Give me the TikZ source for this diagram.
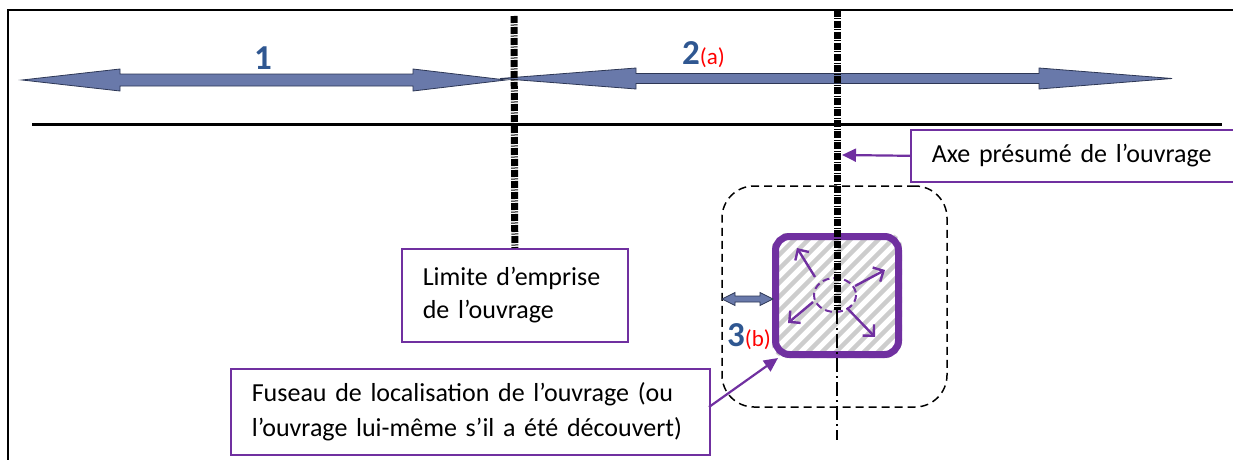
\documentclass[tikz,border=0pt]{standalone}
\usepackage{fontspec}
\setmainfont{Carlito}
\usetikzlibrary{arrows.meta,calc}
\definecolor{pur}{RGB}{112,48,160}
\definecolor{arrfill}{RGB}{105,121,170}
\definecolor{arrdraw}{RGB}{45,55,85}
\definecolor{numblue}{RGB}{47,87,145}
\definecolor{hatch}{RGB}{205,205,205}
\begin{document}
\begin{tikzpicture}[x=1pt,y=-1pt,
  lbl/.style={draw=pur, line width=1.6, font=\fontsize{26}{33}\selectfont, align=left,
    inner xsep=21pt, inner ysep=0pt, anchor=north west},
  blockarrow/.style={fill=arrfill, draw=arrdraw, line width=0.8},
  axisthick/.style={line width=7, dash pattern=on 7pt off 1.5pt on 1pt off 1.5pt},
  axisthin/.style={line width=1.5, dash pattern=on 14pt off 4pt on 2pt off 4pt},
  callout/.style={pur, line width=2.2, -{Triangle[length=14pt,width=13pt]}},
  spread/.style={pur, line width=2.4, -{Straight Barb[length=8pt,width=16pt]}},
  num/.style={text=numblue, font=\fontsize{35}{35}\selectfont\bfseries, inner sep=0pt}]
\useasboundingbox (0,0) rectangle (1233,460);

% frame and ground line
\draw[line width=1.5] (8,460) -- (8,10) -- (1233,10);
\draw[line width=2.5] (32,124.5) -- (1222,124.5);

% block arrows 1 and 2
\draw[blockarrow] (22,80) -- (120,69) -- (120,74) -- (413,74) -- (413,69) -- (506,80)
  -- (413,91) -- (413,86) -- (120,86) -- (120,91) -- cycle;
\draw[blockarrow] (500,78.5) -- (636,68) -- (636,73.5) -- (1039,73.5) -- (1039,68) -- (1172,78.5)
  -- (1039,89) -- (1039,83.5) -- (636,83.5) -- (636,89) -- cycle;
\node[num] (n1) at (263,58) {1};
\node[inner sep=0pt, anchor=base west] (n2) at (682,64)
  {\textcolor{numblue}{\fontsize{35}{35}\selectfont\bfseries 2}\textcolor{red}{\fontsize{23}{23}\selectfont(a)}};

% label boxes
\node[lbl, minimum width=226, minimum height=93, text width=184] (lim) at (401,248)
  {Limite d’emprise\\de l’ouvrage};
\node[lbl, minimum width=479, minimum height=86, text width=437, font=\fontsize{26}{35}\selectfont] (fus) at (230,368)
  {Fuseau de localisation de l’ouvrage (ou\\l’ouvrage lui-même s’il a été découvert)};
\node[lbl, minimum width=345, minimum height=52, text width=303] (axe) at (910,129)
  {Axe présumé de l’ouvrage};

% location zone
\node[draw, line width=1.5, dash pattern=on 8pt off 5pt, rounded corners=32,
  minimum width=225, minimum height=221, inner sep=0pt] (zone) at (834.5,296.5) {};
\begin{scope}
  \clip[rounded corners=14] (772,233) rectangle (902,358);
  \foreach \i in {-210,-196,...,210}
    \draw[line width=4.5, hatch] (837+\i-90,295+90) -- (837+\i+90,295-90);
\end{scope}
\node[draw=pur, line width=7, rounded corners=14, minimum width=123, minimum height=118,
  inner sep=0pt] (sq) at (837,295.5) {};
\draw[pur, line width=2, dash pattern=on 7pt off 4pt] (835,295) ellipse [x radius=21, y radius=17];
\draw[spread] (815,277) -- (797,248);
\draw[spread] (855,286) -- (885,270);
\draw[spread] (813,302) -- (788,323);
\draw[spread] (847,308) -- (875,337);

% small double arrow 3
\draw[blockarrow] (722,299) -- (735,292.5) -- (735,296) -- (760,296) -- (760,292.5) -- (773,299)
  -- (760,305.5) -- (760,302) -- (735,302) -- (735,305.5) -- cycle;
\node[inner sep=0pt, anchor=base west] (n3) at (727,346)
  {\textcolor{numblue}{\fontsize{35}{35}\selectfont\bfseries 3}\textcolor{red}{\fontsize{23}{23}\selectfont(b)}};

% axes
\coordinate (lt) at (514,16);
\draw[axisthick] (lt) -- (lim.north);
\coordinate (axT) at (837,10);
\coordinate (axM) at (837,310);
\coordinate (axB) at (837,440);
\draw[axisthick] (axT) -- (axM);
\draw[axisthin] (axM) -- (axB);

% callouts
\coordinate (axP) at (842,155);
\draw[callout] (axe.west) -- (axP);
\coordinate (fusP) at (709,407);
\coordinate (sqP) at (778,358);
\draw[callout] (fusP) -- (sqP);
\end{tikzpicture}
\end{document}
